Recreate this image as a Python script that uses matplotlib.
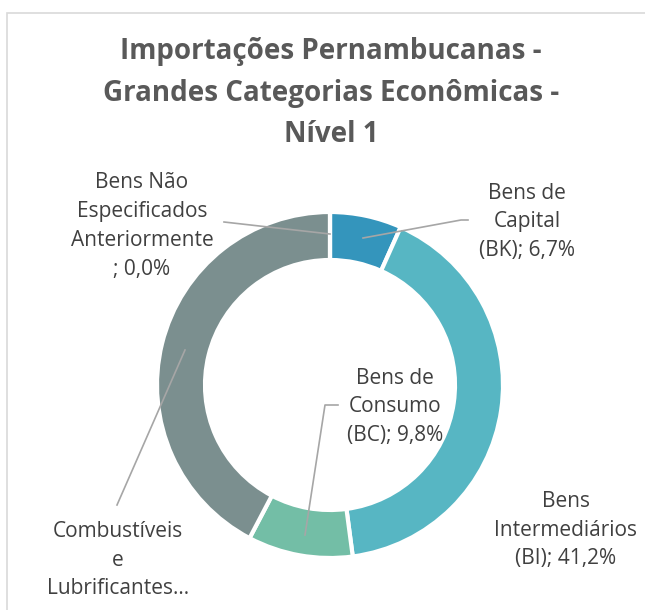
import matplotlib
matplotlib.use('Agg')
import matplotlib.pyplot as plt
from matplotlib.patches import Rectangle

plt.rcParams['font.family'] = ['Open Sans', 'DejaVu Sans']

# data
categories = ['Bens de Capital (BK)', 'Bens Intermediários (BI)', 'Bens de Consumo (BC)',
              'Combustíveis e Lubrificantes', 'Bens Não Especificados Anteriormente']
shares = [6.7, 41.2, 9.8, 42.3, 0.0]
colors = ['#3495BC', '#57B6C3', '#73BEA6', '#7B8F8F', '#9E9E9E']
labels = ['Bens de\nCapital\n(BK); 6,7%',
          'Bens\nIntermediários\n(BI); 41,2%',
          'Bens de\nConsumo\n(BC); 9,8%',
          'Combustíveis\ne\nLubrificantes…',
          'Bens Não\nEspecificados\nAnteriormente\n; 0,0%']
title = 'Importações Pernambucanas -\nGrandes Categorias Econômicas -\nNível 1'

W, H = 645, 610
fig = plt.figure(figsize=(W / 100, H / 100), dpi=100)
ax = fig.add_axes([0, 0, 1, 1])

cx, cy, r = 330, H - 385, 173
ax.pie(shares, colors=colors, startangle=90, counterclock=False, radius=r,
       center=(cx, cy), frame=True,
       wedgeprops=dict(width=48, edgecolor='white', linewidth=3))

ax.set_xlim(0, W)
ax.set_ylim(0, H)
ax.set_aspect('equal')
ax.axis('off')

# chart area border
ax.add_patch(Rectangle((7, -10), W, H - 13 + 10, fill=False, edgecolor='#D9D9D9', lw=1.2))

ax.text(331, H - 93, title, ha='center', va='center', fontsize=20, fontweight='bold',
        color='#595959', linespacing=1.55)

# label positions (pixel coords) and leader lines
label_pos = [(527, 222), (566, 530), (395, 407), (118, 560), (142, 226)]
leaders = [[(363, 238), (461, 220), (468, 220)],
           None,
           [(305, 535), (325, 405), (338, 405)],
           [(185, 350), (117, 505)],
           [(330, 234), (224, 222)]]

for (x, y), txt in zip(label_pos, labels):
    ax.text(x, H - y, txt, ha='center', va='center', fontsize=15, color='#404040',
            linespacing=1.48)

for pts in leaders:
    if pts is None:
        continue
    xs = [p[0] for p in pts]
    ys = [H - p[1] for p in pts]
    ax.plot(xs, ys, color='#A6A6A6', lw=1.2)

fig.savefig('out.png', dpi=100)
